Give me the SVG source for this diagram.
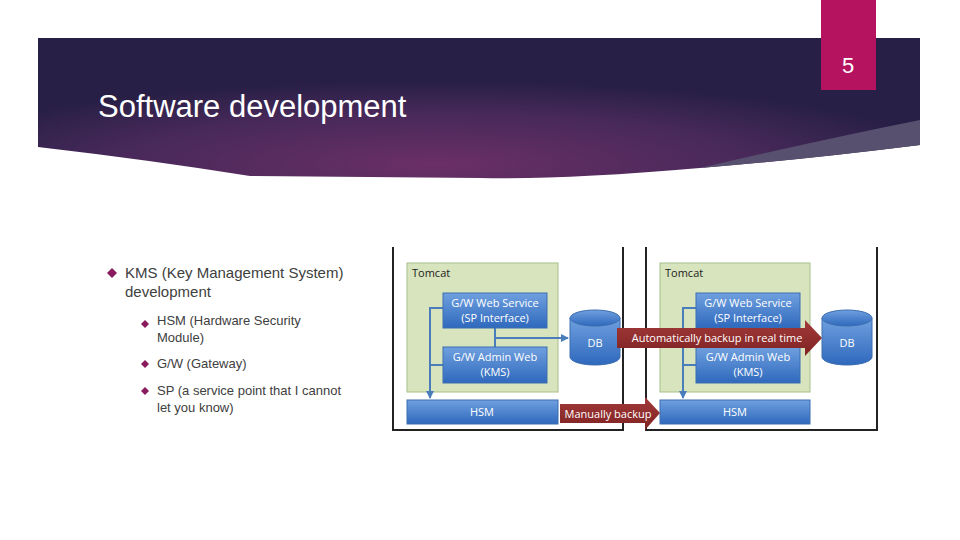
<svg xmlns="http://www.w3.org/2000/svg" width="960" height="540" viewBox="0 0 960 540">
<defs>
<radialGradient id="bg" cx="0.45" cy="0.9" r="0.6">
<stop offset="0" stop-color="#6a2f66"/><stop offset="0.6" stop-color="#48295a"/><stop offset="1" stop-color="#271f45"/>
</radialGradient>
<linearGradient id="blue" x1="0" y1="0" x2="0" y2="1"><stop offset="0" stop-color="#6fa0df"/><stop offset="1" stop-color="#2f69bd"/></linearGradient>
<linearGradient id="red" x1="0" y1="0" x2="0" y2="1"><stop offset="0" stop-color="#a33a3a"/><stop offset="1" stop-color="#7e2222"/></linearGradient>
<marker id="ah" markerWidth="8" markerHeight="8" refX="7" refY="4" orient="auto" markerUnits="userSpaceOnUse"><path d="M0,0 L8,4 L0,8 z" fill="#4a7ebb"/></marker>
</defs>
<style>
.t{font-family:"Liberation Sans",Arial,sans-serif;fill:#404040}
.c{font-family:"Open Sans","Liberation Sans",sans-serif}
.box{fill:url(#blue);stroke:#3d6eaf;stroke-width:1}
.bt{font-family:"Open Sans","Liberation Sans",sans-serif;font-size:11px;fill:#fff;text-anchor:middle}
.tom{fill:#d7e4bd;stroke:#a8bf8a;stroke-width:1}
.ln{stroke:#4a7ebb;stroke-width:2;fill:none}
.bul{fill:#8a1a5e}
</style>
<rect width="960" height="540" fill="#fff"/>
<path d="M38,38 H920 V145 Q800,160 700,168 Q560,180 480,178 L250,176 Q150,160 38,147 Z" fill="url(#bg)"/>
<path d="M920,120 V145 Q800,160 700,168 Q820,140 920,120 Z" fill="#58506f"/>
<rect x="821" y="0" width="55" height="90" fill="#b5135f"/>
<text x="848" y="73" class="t" font-size="22" fill="#fff" style="fill:#fff" text-anchor="middle">5</text>
<text x="98" y="117" class="t" font-size="31" style="fill:#fff">Software development</text>

<g id="bullets">
<path class="bul" d="M112,268 l5,5 -5,5 -5,-5 z"/>
<text class="t" x="125" y="278" font-size="15">KMS (Key Management System)</text>
<text class="t" x="125" y="297" font-size="15">development</text>
<path class="bul" d="M145,320 l4,4 -4,4 -4,-4 z"/>
<text class="t" x="157" y="325" font-size="13">HSM (Hardware Security</text>
<text class="t" x="157" y="342" font-size="13">Module)</text>
<path class="bul" d="M145,360 l4,4 -4,4 -4,-4 z"/>
<text class="t" x="157" y="368" font-size="13">G/W (Gateway)</text>
<path class="bul" d="M145,387 l4,4 -4,4 -4,-4 z"/>
<text class="t" x="157" y="395" font-size="13">SP (a service point that I cannot</text>
<text class="t" x="157" y="412" font-size="13">let you know)</text>
</g>

<g id="frames" fill="none" stroke="#222" stroke-width="2">
<path d="M393,247 V430 H623 V247"/>
<path d="M646,247 V430 H877 V247"/>
</g>

<g id="tomcat1"><rect class="tom" x="407" y="263" width="151" height="129"/><text class="c" x="412" y="277" font-size="11" fill="#222">Tomcat</text></g>
<g id="tomcat2"><rect class="tom" x="660" y="263" width="150" height="129"/><text class="c" x="665" y="277" font-size="11" fill="#222">Tomcat</text></g>

<g id="connectors">
<path class="ln" d="M443,308 H430 V398" marker-end="url(#ah)"/>
<path class="ln" d="M443,365 H430"/>
<path class="ln" d="M495,328 V347 M495,338 H568" marker-end="url(#ah)"/>
<path class="ln" d="M696,308 H683 V398" marker-end="url(#ah)"/>
<path class="ln" d="M696,365 H683"/>
</g>

<g id="gws1"><rect class="box" x="443" y="293" width="104" height="35"/><text class="bt" x="495" y="307">G/W Web Service</text><text class="bt" x="495" y="322">(SP Interface)</text></g>
<g id="gwa1"><rect class="box" x="443" y="347" width="104" height="36"/><text class="bt" x="495" y="361">G/W Admin Web</text><text class="bt" x="495" y="376">(KMS)</text></g>
<g id="gws2"><rect class="box" x="696" y="293" width="104" height="35"/><text class="bt" x="748" y="307">G/W Web Service</text><text class="bt" x="748" y="322">(SP Interface)</text></g>
<g id="gwa2"><rect class="box" x="696" y="347" width="104" height="36"/><text class="bt" x="748" y="361">G/W Admin Web</text><text class="bt" x="748" y="376">(KMS)</text></g>

<g id="db1"><path class="box" d="M570,318 V357 A25,8 0 0 0 620,357 V318"/><ellipse class="box" cx="595" cy="318" rx="25" ry="8"/><text class="bt" x="595" y="347">DB</text></g>
<g id="db2"><path class="box" d="M822,318 V357 A25,8 0 0 0 872,357 V318"/><ellipse class="box" cx="847" cy="318" rx="25" ry="8"/><text class="bt" x="847" y="347">DB</text></g>

<g id="hsm1"><rect class="box" x="407" y="400" width="151" height="24"/><text class="bt" x="482" y="416">HSM</text></g>
<g id="hsm2"><rect class="box" x="660" y="400" width="150" height="24"/><text class="bt" x="735" y="416">HSM</text></g>

<g id="arrow-auto"><path d="M617,328 H805 V320 L822,338 L805,356 V348 H617 Z" fill="url(#red)"/><text class="bt" x="717" y="342" font-size="10.5">Automatically backup in real time</text></g>
<g id="arrow-manual"><path d="M560,404 H645 V397 L660,413 L645,430 V423 H560 Z" fill="url(#red)"/><text class="bt" x="608" y="418" font-size="10.5">Manually backup</text></g>
</svg>
